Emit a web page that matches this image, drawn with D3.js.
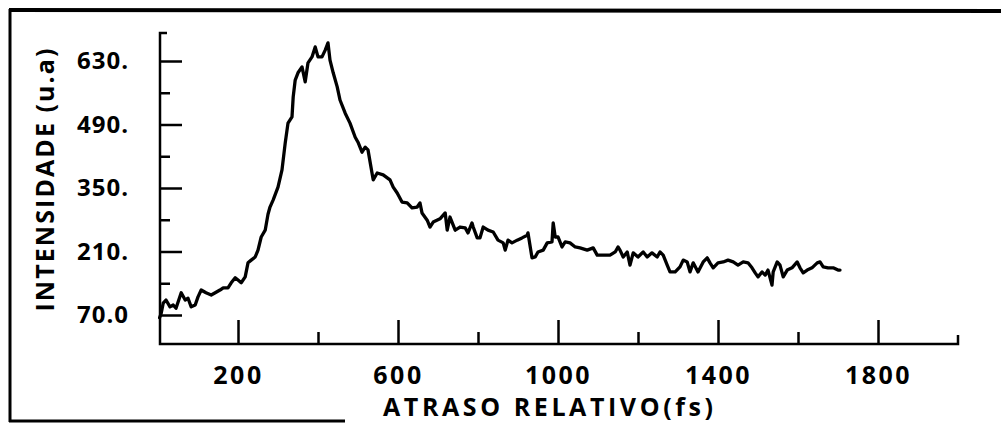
<!DOCTYPE html>
<html>
<head>
<meta charset="utf-8">
<script src="https://cdn.jsdelivr.net/npm/d3@7"></script>
<style>
  html, body { margin: 0; padding: 0; background: #fff; }
  svg { display: block; }
  text { font-family: "Open Sans", "DejaVu Sans", sans-serif; font-weight: 700; fill: #000; }
</style>
</head>
<body>
<svg id="chart" width="1001" height="426"></svg>
<script>
// Relative delay (fs) of each sample
const delay = [4, 8, 13, 20, 30, 38, 45, 58, 68, 75, 83, 93, 100, 108, 120, 133, 143, 155, 163, 175,
  183, 193, 200, 208, 218, 225, 233, 243, 250, 258, 268, 275, 280, 288, 300, 310, 318, 325, 335, 338,
  343, 350, 360, 368, 375, 385, 393, 400, 410, 418, 425, 430, 438, 448, 455, 468, 480, 493, 500, 510,
  518, 525, 535, 538, 548, 563, 580, 588, 598, 610, 623, 635, 648, 655, 660, 673, 680, 688, 705, 718,
  723, 730, 743, 755, 768, 775, 785, 788, 798, 805, 813, 825, 838, 850, 863, 868, 875, 885, 898, 910,
  923, 925, 935, 943, 950, 963, 973, 985, 988, 993, 1000, 1010, 1018, 1030, 1043, 1055, 1073, 1088, 1098, 1113,
  1130, 1143, 1150, 1155, 1163, 1173, 1180, 1188, 1200, 1213, 1223, 1235, 1248, 1255, 1263, 1273, 1280, 1293, 1305, 1313,
  1323, 1330, 1338, 1350, 1363, 1373, 1380, 1388, 1400, 1413, 1425, 1438, 1450, 1463, 1475, 1485, 1493, 1500, 1510, 1518,
  1525, 1535, 1538, 1548, 1555, 1563, 1573, 1585, 1598, 1605, 1613, 1623, 1635, 1648, 1655, 1663, 1675, 1688, 1700, 1705];

// Measured intensity (u.a) at each delay
const intensity = [64, 74, 96, 103, 88, 92, 85, 119, 103, 107, 88, 92, 110, 125, 119, 114, 119, 125, 130, 130,
  141, 152, 147, 141, 154, 185, 191, 198, 213, 242, 257, 292, 308, 324, 352, 390, 449, 493, 507, 551,
  588, 604, 617, 584, 626, 639, 661, 639, 639, 654, 670, 632, 604, 573, 544, 515, 493, 462, 451, 429,
  440, 434, 383, 368, 383, 379, 368, 352, 339, 319, 317, 306, 308, 317, 295, 279, 264, 275, 282, 295,
  257, 286, 257, 264, 262, 251, 273, 264, 240, 240, 264, 257, 253, 235, 229, 213, 235, 229, 235, 240,
  246, 251, 196, 198, 209, 213, 229, 231, 273, 242, 242, 220, 231, 229, 220, 218, 213, 218, 202, 202,
  202, 209, 220, 213, 198, 209, 180, 207, 198, 209, 198, 207, 198, 209, 202, 180, 165, 165, 176, 191,
  187, 165, 185, 165, 187, 196, 185, 174, 185, 187, 191, 187, 180, 187, 185, 174, 163, 154, 165, 158,
  169, 136, 165, 187, 180, 154, 169, 174, 187, 174, 163, 169, 174, 185, 187, 176, 174, 174, 169, 169];

// Axis ticks
const yMajorTicks = [70, 210, 350, 490, 630];
const yMinorTicks = [140, 280, 420, 560];
const yTickLabels = ["70.0", "210.", "350.", "490.", "630."];
const xMajorTicks = [200, 600, 1000, 1400, 1800];
const xMinorTicks = [400, 800, 1200, 1600];
const xTickLabels = ["200", "600", "1000", "1400", "1800"];

const yTitle = "INTENSIDADE (u.a)";
const xTitle = "ATRASO RELATIVO(fs)";

const svg = d3.select("#chart");

const x = d3.scaleLinear().domain([0, 2000]).range([158, 958]);
const y = d3.scaleLinear().domain([70, 630]).range([315, 61]);

const axisX = 160, axisY = 344;   // where the two axes cross
const yTop = 33, xRight = 958;

// Outer frame (left, top and lower-left edges)
const frame = svg.append("g").attr("stroke", "#000").attr("fill", "none");
frame.append("line").attr("x1", 10).attr("y1", 9).attr("x2", 10).attr("y2", 422).attr("stroke-width", 3);
frame.append("line").attr("x1", 9).attr("y1", 10).attr("x2", 1001).attr("y2", 11).attr("stroke-width", 4);
frame.append("line").attr("x1", 9).attr("y1", 421).attr("x2", 345).attr("y2", 421).attr("stroke-width", 3);

// Axis lines with their small end hooks
const axes = svg.append("g").attr("stroke", "#000").attr("fill", "none")
  .attr("stroke-width", 2.5).attr("stroke-linejoin", "miter");
axes.append("path").attr("d", `M${axisX + 7},${yTop} H${axisX} V${axisY} H${xRight} V${axisY - 9}`);

// Y axis: major ticks with labels, minor ticks
const yMajor = svg.append("g").attr("transform", `translate(${axisX},0)`)
  .call(d3.axisLeft(y).tickValues(yMajorTicks).tickSizeInner(-22).tickSizeOuter(0)
    .tickPadding(0).tickFormat((d, i) => yTickLabels[i]));
yMajor.select(".domain").remove();
yMajor.selectAll(".tick line").attr("stroke", "#000").attr("stroke-width", 2.5);
yMajor.selectAll(".tick text")
  .attr("x", 77 - axisX).attr("text-anchor", "start")
  .style("font-size", "24px").style("letter-spacing", "1px");

const yMinor = svg.append("g").attr("transform", `translate(${axisX},0)`)
  .call(d3.axisLeft(y).tickValues(yMinorTicks).tickSizeInner(-10).tickSizeOuter(0).tickFormat(""));
yMinor.select(".domain").remove();
yMinor.selectAll(".tick line").attr("stroke", "#000").attr("stroke-width", 2.5);

// X axis: major ticks with labels below, minor ticks
const xMajor = svg.append("g").attr("transform", `translate(0,${axisY})`)
  .call(d3.axisBottom(x).tickValues(xMajorTicks).tickSizeInner(-24).tickSizeOuter(0)
    .tickPadding(22).tickFormat((d, i) => xTickLabels[i]));
xMajor.select(".domain").remove();
xMajor.selectAll(".tick line").attr("stroke", "#000").attr("stroke-width", 2.5);
xMajor.selectAll(".tick text").style("font-size", "25px").style("letter-spacing", "2.5px");

const xMinor = svg.append("g").attr("transform", `translate(0,${axisY})`)
  .call(d3.axisBottom(x).tickValues(xMinorTicks).tickSizeInner(-12).tickSizeOuter(0).tickFormat(""));
xMinor.select(".domain").remove();
xMinor.selectAll(".tick line").attr("stroke", "#000").attr("stroke-width", 2.5);

// Axis titles
svg.append("text")
  .attr("transform", "translate(54,180) rotate(-90)")
  .attr("text-anchor", "middle")
  .attr("textLength", 263).attr("lengthAdjust", "spacing")
  .style("font-size", "25px")
  .text(yTitle);

svg.append("text")
  .attr("x", 548).attr("y", 416)
  .attr("text-anchor", "middle")
  .attr("textLength", 330).attr("lengthAdjust", "spacing")
  .style("font-size", "25px")
  .text(xTitle);

// Intensity trace
const points = delay.map((d, i) => [d, intensity[i]]);
svg.append("path")
  .datum(points)
  .attr("fill", "none")
  .attr("stroke", "#000")
  .attr("stroke-width", 3.3)
  .attr("stroke-linejoin", "round")
  .attr("stroke-linecap", "round")
  .attr("d", d3.line().x(d => x(d[0])).y(d => y(d[1])));
</script>
</body>
</html>
